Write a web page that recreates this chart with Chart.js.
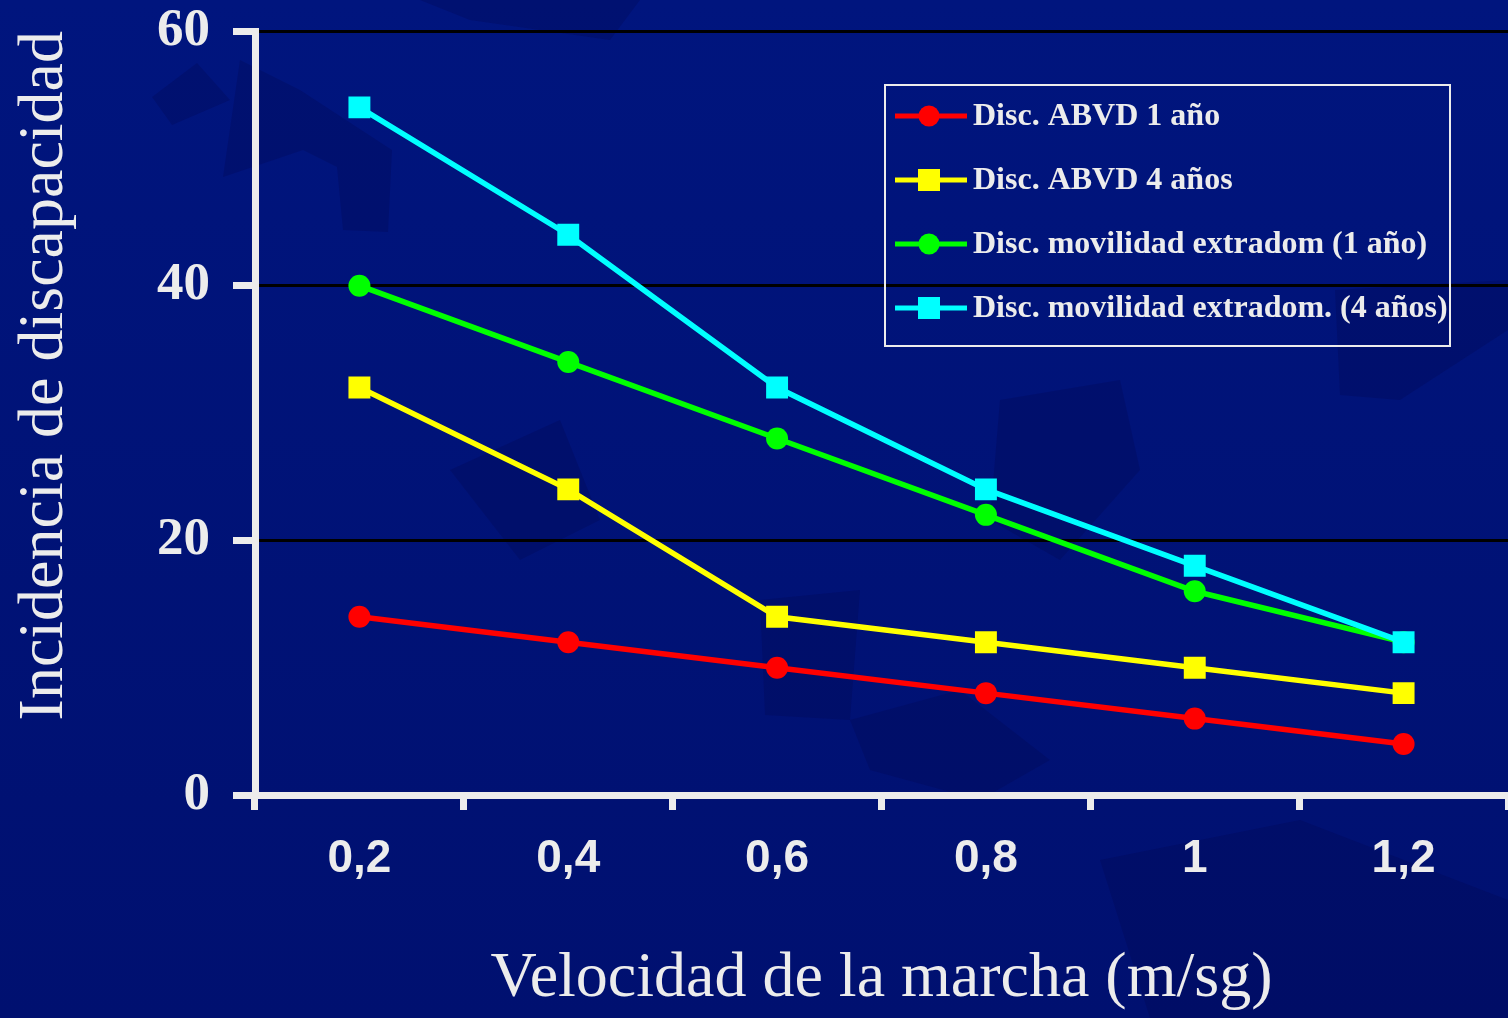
<!DOCTYPE html>
<html><head><meta charset="utf-8">
<script src="https://cdn.jsdelivr.net/npm/chart.js@4.4.0/dist/chart.umd.min.js"></script>
<style>html,body{margin:0;padding:0;background:#00147a;overflow:hidden}</style></head>
<body><canvas id="c" width="1508" height="1018"></canvas>
<script>
const categories = ['0,2','0,4','0,6','0,8','1','1,2'];
const abvd1Year = [14,12,10,8,6,4];
const abvd4Years = [32,24,14,12,10,8];
const mobility1Year = [40,34,28,22,16,12];
const mobility4Years = [54,44,32,24,18,12];
const seriesLabels = ['Disc. ABVD 1 año','Disc. ABVD 4 años','Disc. movilidad extradom (1 año)','Disc. movilidad extradom. (4 años)'];
const yTickValues = [0,20,40,60];
const xTitle = 'Velocidad de la marcha (m/sg)';
const yTitle = 'Incidencia de discapacidad';

const TXT = '#ececec';

const bgPlugin = {
  id: 'bg',
  beforeDraw(chart) {
    const ctx = chart.ctx, w = chart.width, h = chart.height;
    ctx.save();
    const g = ctx.createLinearGradient(0, 0, 0, h);
    g.addColorStop(0, '#00157e');
    g.addColorStop(1, '#001070');
    ctx.fillStyle = g;
    ctx.fillRect(0, 0, w, h);
    ctx.fillStyle = 'rgba(0,6,80,0.28)';
    const polys = [
      [[152,97],[197,63],[230,100],[172,125]],
      [[223,177],[303,150],[337,167],[343,230],[388,232],[392,150],[300,90],[240,60]],
      [[420,0],[640,0],[610,40],[470,20]],
      [[1000,400],[1120,380],[1140,470],[1060,560],[990,520]],
      [[1335,290],[1508,280],[1508,330],[1400,400],[1340,395]],
      [[760,600],[860,590],[850,720],[765,715]],
      [[850,720],[960,690],[1050,760],[980,800],[870,770]],
      [[1100,860],[1300,820],[1508,900],[1508,1018],[1150,1018]],
      [[450,470],[560,420],[600,520],[520,560]]
    ];
    for (const p of polys) {
      ctx.beginPath();
      ctx.moveTo(p[0][0], p[0][1]);
      for (let i = 1; i < p.length; i++) ctx.lineTo(p[i][0], p[i][1]);
      ctx.closePath();
      ctx.fill();
    }
    ctx.restore();
  }
};

const legendPlugin = {
  id: 'boxLegend',
  afterDraw(chart) {
    const ctx = chart.ctx;
    ctx.save();
    ctx.strokeStyle = TXT;
    ctx.lineWidth = 2;
    ctx.strokeRect(885, 85, 565, 261);
    chart.data.datasets.forEach((ds, i) => {
      const y = 116 + i * 64;
      ctx.strokeStyle = ds.borderColor;
      ctx.lineWidth = 5;
      ctx.beginPath();
      ctx.moveTo(895, y);
      ctx.lineTo(967, y);
      ctx.stroke();
      ctx.fillStyle = ds.backgroundColor;
      if (ds.pointStyle === 'rect') {
        ctx.fillRect(929 - 11, y - 11, 22, 22);
      } else {
        ctx.beginPath();
        ctx.arc(929, y, 10.5, 0, Math.PI * 2);
        ctx.fill();
      }
      ctx.fillStyle = TXT;
      ctx.font = 'bold 32px "Liberation Serif", "Times New Roman", serif';
      ctx.textBaseline = 'middle';
      ctx.textAlign = 'left';
      ctx.fillText(ds.label, 973, y + 1);
    });
    ctx.restore();
  }
};

function mk(label, data, color, style, order) {
  return {
    label, data,
    borderColor: color,
    backgroundColor: color,
    borderWidth: 5.5,
    pointStyle: style,
    pointRadius: style === 'rect' ? 15.5 : 11,
    pointHoverRadius: style === 'rect' ? 15.5 : 11,
    pointBorderWidth: 0,
    pointBackgroundColor: color,
    tension: 0,
    order
  };
}

new Chart(document.getElementById('c'), {
  type: 'line',
  data: {
    labels: categories,
    datasets: [
      mk(seriesLabels[0], abvd1Year, '#ff0000', 'circle', 4),
      mk(seriesLabels[1], abvd4Years, '#ffff00', 'rect', 3),
      mk(seriesLabels[2], mobility1Year, '#00ff00', 'circle', 2),
      mk(seriesLabels[3], mobility4Years, '#00ffff', 'rect', 1)
    ]
  },
  options: {
    responsive: false,
    animation: false,
    events: [],
    layout: { autoPadding: false, padding: { left: 0, right: 0, top: 31, bottom: 0 } },
    plugins: { legend: { display: false }, tooltip: { enabled: false } },
    scales: {
      x: {
        type: 'category',
        offset: true,
        grid: { drawOnChartArea: false, offset: true, color: TXT, tickColor: TXT, tickWidth: 7, tickLength: 15 },
        border: { display: true, color: TXT, width: 7 },
        ticks: { color: TXT, padding: 22, maxRotation: 0, autoSkip: false,
          font: { family: '"Liberation Sans", Arial, sans-serif', size: 46, weight: 'bold' } },
        title: { display: true, text: xTitle, color: TXT, padding: { top: 0, bottom: 0 },
          font: { family: '"Liberation Serif", "Times New Roman", serif', size: 64, weight: 'normal' } },
        afterFit(scale) { scale.height = 1018 - 795; scale.paddingLeft = 0; scale.paddingRight = 0; }
      },
      y: {
        min: 0, max: 60,
        afterBuildTicks(scale) { scale.ticks = yTickValues.map(v => ({ value: v })); },
        grid: {
          color: c => (c.tick && c.tick.value === 0) ? 'rgba(0,0,0,0)' : '#000000',
          lineWidth: 3, tickColor: TXT, tickWidth: 7, tickLength: 22
        },
        border: { display: true, color: TXT, width: 7 },
        ticks: { color: TXT, padding: 23,
          font: { family: '"Liberation Serif", "Times New Roman", serif', size: 53, weight: 'bold' } },
        title: { display: true, text: yTitle, color: TXT, align: 'end', padding: { top: 7, bottom: 0 },
          font: { family: '"Liberation Serif", "Times New Roman", serif', size: 64, weight: 'normal' } },
        afterFit(scale) { scale.width = 255; scale.paddingTop = 0; scale.paddingBottom = 0; }
      }
    }
  },
  plugins: [bgPlugin, legendPlugin]
});
</script>
</body></html>
